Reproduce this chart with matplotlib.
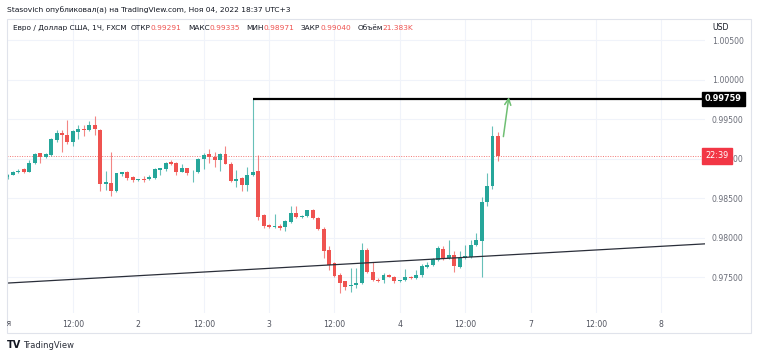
import matplotlib
matplotlib.use("Agg")
import matplotlib.pyplot as plt
from matplotlib.transforms import Bbox, TransformedBbox, blended_transform_factory
from matplotlib.patches import Rectangle

plt.rcParams['font.family'] = ['DejaVu Sans']

# ---- данные: часовые свечи EUR/USD, 1 ноя 00:00 -> 4 ноя 18:00 ----
opens = [0.9877, 0.9880, 0.9884, 0.9887, 0.9884, 0.9895, 0.9907, 0.9903, 0.9905, 0.9924,
         0.9933, 0.9930, 0.9922, 0.9934, 0.9938, 0.9936, 0.9943, 0.9937, 0.9868, 0.9870,
         0.9860, 0.9881, 0.9883, 0.9877, 0.9873, 0.9875, 0.9874, 0.9876, 0.9886, 0.9887,
         0.9896, 0.9895, 0.9884, 0.9888, 0.9883, 0.9884, 0.9900, 0.9906, 0.9903, 0.9898,
         0.9906, 0.9894, 0.98725, 0.9876, 0.9867, 0.9880, 0.9885, 0.9829, 0.9816, 0.98135,
         0.9815, 0.98135, 0.9820, 0.9832, 0.9826, 0.9828, 0.9835, 0.9825, 0.9811, 0.9785,
         0.9768, 0.9753, 0.9745, 0.9739, 0.9740, 0.9743, 0.9785, 0.9757, 0.9747, 0.9747,
         0.9753, 0.9751, 0.9745, 0.9747, 0.9751, 0.9749, 0.97525, 0.9763, 0.9766, 0.9772,
         0.9786, 0.9774, 0.9779, 0.9763, 0.9774, 0.9776, 0.9791, 0.97965, 0.9846, 0.9866,
         0.99291]
highs = [0.9881, 0.9885, 0.9887, 0.9889, 0.9899, 0.9908, 0.9908, 0.9908, 0.9926, 0.9936,
         0.9937, 0.9949, 0.9937, 0.9943, 0.9943, 0.9948, 0.9954, 0.9938, 0.9885, 0.9909,
         0.9882, 0.9884, 0.9885, 0.9878, 0.9875, 0.9878, 0.9879, 0.9888, 0.9889, 0.9896,
         0.9899, 0.9896, 0.9894, 0.9889, 0.9886, 0.9901, 0.9907, 0.9912, 0.9909, 0.9907,
         0.9916, 0.9896, 0.9886, 0.9877, 0.9890, 0.99759, 0.9905, 0.9830, 0.9818, 0.9830,
         0.9817, 0.9823, 0.9840, 0.9840, 0.9829, 0.9835, 0.9836, 0.9827, 0.9814, 0.9790,
         0.9769, 0.9756, 0.9746, 0.9762, 0.9762, 0.9794, 0.9787, 0.9769, 0.9749, 0.9755,
         0.9754, 0.9752, 0.9747, 0.9761, 0.9752, 0.9760, 0.9767, 0.9769, 0.9775, 0.9790,
         0.9790, 0.9797, 0.9783, 0.9783, 0.9791, 0.9797, 0.9806, 0.9852, 0.9882, 0.9941,
         0.99335]
lows = [0.9875, 0.9879, 0.9882, 0.9882, 0.9883, 0.9894, 0.9895, 0.9901, 0.9904, 0.9922,
        0.9909, 0.9919, 0.9916, 0.9925, 0.9929, 0.9935, 0.9930, 0.9859, 0.9861, 0.9853,
        0.9858, 0.9878, 0.9873, 0.9871, 0.9872, 0.9871, 0.9873, 0.9875, 0.9880, 0.9885,
        0.9892, 0.9880, 0.9883, 0.9880, 0.9871, 0.9882, 0.9887, 0.9895, 0.9890, 0.9885,
        0.9893, 0.9871, 0.9865, 0.9859, 0.9859, 0.9878, 0.9823, 0.9812, 0.9812, 0.9812,
        0.9810, 0.9809, 0.9819, 0.9825, 0.9825, 0.9827, 0.9824, 0.9810, 0.9774, 0.9760,
        0.9750, 0.9730, 0.9734, 0.9732, 0.9737, 0.9742, 0.9755, 0.9746, 0.9744, 0.9743,
        0.9750, 0.9743, 0.9744, 0.9746, 0.9748, 0.9748, 0.9751, 0.9762, 0.9765, 0.9771,
        0.9772, 0.9773, 0.9757, 0.9762, 0.9773, 0.9775, 0.9790, 0.9751, 0.9841, 0.9862,
        0.98971]
closes = [0.9880, 0.9884, 0.9885, 0.9884, 0.9895, 0.9906, 0.9903, 0.9906, 0.9925, 0.9933,
          0.9930, 0.9921, 0.9935, 0.9938, 0.9936, 0.9943, 0.9938, 0.9868, 0.9871, 0.9860,
          0.9882, 0.9883, 0.9876, 0.9873, 0.9874, 0.9873, 0.9877, 0.9887, 0.9888, 0.9895,
          0.9894, 0.9883, 0.9888, 0.9882, 0.9884, 0.9900, 0.9905, 0.9903, 0.9898, 0.9906,
          0.9894, 0.98725, 0.9875, 0.9867, 0.9880, 0.9884, 0.9827, 0.9815, 0.98135, 0.9815,
          0.9813, 0.9821, 0.9831, 0.9826, 0.98275, 0.9835, 0.9825, 0.9811, 0.9783, 0.9766,
          0.9752, 0.9743, 0.9738, 0.9740, 0.9743, 0.9785, 0.9757, 0.9747, 0.9745, 0.9753,
          0.9751, 0.9745, 0.9747, 0.9750, 0.9749, 0.97525, 0.9764, 0.9766, 0.9773, 0.9787,
          0.9774, 0.9779, 0.9764, 0.9774, 0.9777, 0.9791, 0.97975, 0.9846, 0.9866, 0.99291,
          0.99040]

tick_hours = [0, 12, 24, 36, 48, 60, 72, 84, 96, 108, 120]
tick_labels = ['Ноя', '12:00', '2', '12:00', '3', '12:00', '4', '12:00', '7', '12:00', '8']
price_ticks = [0.975, 0.980, 0.985, 0.990, 0.995, 1.000, 1.005]

level_price = 0.99759       # горизонтальный уровень
level_start = 45
last_price = 0.99040
trend_x = [-1, 128]
trend_y = [0.97425, 0.97925]
arrow_from = (91.0, 0.99282)
arrow_to = (92.0, 0.99781)

GREEN = '#26a69a'
RED = '#ef5350'
TXT = '#131722'
GRAY = '#6a6d78'

W, H = 758, 359
fig = plt.figure(figsize=(W / 100, H / 100), dpi=100)
fig.patch.set_facecolor('white')


def fx(px):
    return px / W


def fy(py):
    return 1 - py / H


# рамка графика
fig.add_artist(Rectangle((fx(6.5), fy(333)), fx(751 - 6.5), (333 - 19) / H,
                         transform=fig.transFigure, fill=False,
                         edgecolor='#e0e3eb', lw=0.8))

ax = fig.add_axes([fx(6.7), fy(313), fx(705 - 6.7), (313 - 19) / H])
ax.set_facecolor('none')
ax.set_xlim(-0.15, 128)
ax.set_ylim(0.9705, 1.0077)
for s in ax.spines.values():
    s.set_visible(False)
ax.set_axisbelow(True)
ax.grid(color='#f0f3fa', lw=0.8)

# свечи
for i in range(len(opens)):
    o, h, l, c = opens[i], highs[i], lows[i], closes[i]
    col = GREEN if c >= o else RED
    ax.vlines(i, l, h, color=col, lw=0.8, alpha=0.7, zorder=2)
    ax.bar(i, max(abs(c - o), 0.00007), bottom=min(o, c), width=0.72,
           color=col, edgecolor=col, lw=0, zorder=3)

# рисунки
ax.hlines(level_price, level_start, 128, color='black', lw=1.6, zorder=4)
ax.axhline(last_price, color=RED, ls=(0, (1, 1.5)), lw=0.7, alpha=0.8, zorder=1)
ax.plot(trend_x, trend_y, color='#2a2e39', lw=0.9, zorder=4)
ax.annotate('', xy=arrow_to, xytext=arrow_from,
            arrowprops=dict(arrowstyle='->', color='#6fbf73', lw=1.1,
                            mutation_scale=11, shrinkA=0, shrinkB=0), zorder=5)

# оси
ax.set_xticks(tick_hours[1:])
ax.set_xticklabels(tick_labels[1:])
ax.set_yticks(price_ticks)
ax.set_yticklabels([f'{p:.5f}' for p in price_ticks])
ax.yaxis.tick_right()
ax.tick_params(axis='x', length=0, pad=5, labelsize=5.6, labelcolor='#50535e')
ax.tick_params(axis='y', length=0, pad=5, labelsize=5.6, labelcolor=GRAY)

# первая подпись "Ноя" обрезана краем
t0 = fig.text(fx(4), fy(324), tick_labels[0], fontsize=5.6, color='#50535e',
              ha='center', va='center')
t0.set_clip_box(TransformedBbox(Bbox([[fx(6.7), 0], [1, 1]]), fig.transFigure))
t0.set_clip_on(True)

trans = blended_transform_factory(ax.transAxes, ax.transData)
ax.text(1.0, level_price, '0.99759', transform=trans, ha='left', va='center',
        fontsize=5.9, fontweight='bold', color='white', zorder=10, clip_on=False,
        bbox=dict(boxstyle='square,pad=0.35', facecolor='black', edgecolor='black'))
ax.text(1.0, last_price, '22:39', transform=trans, ha='left', va='center',
        fontsize=5.9, color='white', zorder=10, clip_on=False,
        bbox=dict(boxstyle='square,pad=0.4', facecolor='#f23645', edgecolor='#f23645'))

fig.text(fx(712), fy(28), 'USD', fontsize=5.6, color=TXT, va='center')

# заголовки
fig.text(fx(7), fy(10), 'Stasovich опубликовал(а) на TradingView.com, Ноя 04, 2022 18:37 UTC+3',
         fontsize=5.4, color=TXT, va='center')

legend_parts = [
    ('Евро / Доллар США, 1Ч, FXCM', TXT, 0),
    ('ОТКР', TXT, 3), ('0.99291', RED, 0),
    ('МАКС', TXT, 4.5), ('0.99335', RED, 0),
    ('МИН', TXT, 4.5), ('0.98971', RED, 0),
    ('ЗАКР', TXT, 4.5), ('0.99040', RED, 0),
    ('Объём', TXT, 4.5), ('21.383K', RED, 0),
]
prev = fig.text(fx(13), fy(28), legend_parts[0][0], fontsize=5.3,
                color=legend_parts[0][1], va='center')
for txt, col, gap in legend_parts[1:]:
    prev = fig.add_artist(matplotlib.text.Annotation(
        txt, xy=(1, 0.5), xycoords=prev, xytext=(gap, 0),
        textcoords='offset points', fontsize=5.3, color=col, va='center', ha='left'))

# логотип внизу
fig.text(fx(7), fy(345), 'TV', fontsize=7, fontweight='bold', color=TXT, va='center')
fig.text(fx(23), fy(345), 'TradingView', fontsize=6, color='#2a2e39', va='center')

fig.savefig('out.png', dpi=100, facecolor='white')
